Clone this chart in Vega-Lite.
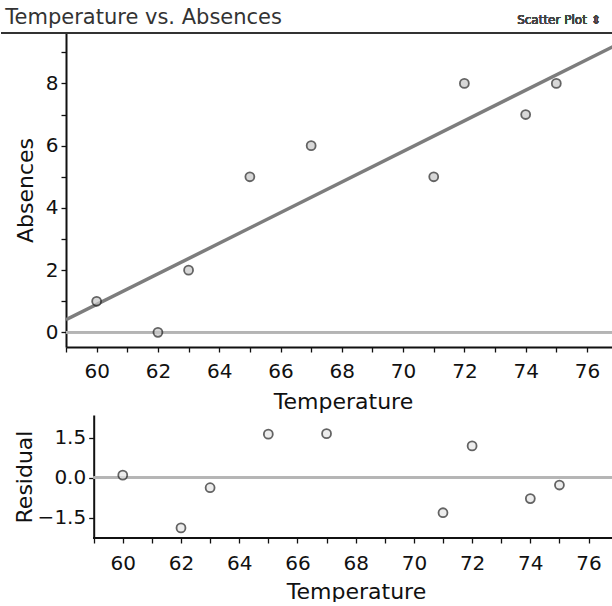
{
  "$schema": "https://vega.github.io/schema/vega-lite/v6.json",
  "padding": {"left": 0, "top": 6, "right": 0, "bottom": 0},
  "background": "white",
  "title": {"text": "Temperature vs. Absences", "anchor": "start", "frame": "bounds", "dx": 5, "fontSize": 21, "font": "DejaVu Sans", "fontWeight": "normal", "color": "#333", "offset": -14},
  "config": {
    "view": {"stroke": null},
    "font": "DejaVu Sans",
    "axis": {"grid": false, "domainColor": "#111", "tickColor": "#111", "labelColor": "#111", "titleColor": "#111", "titleFontWeight": "normal", "labelFontSize": 20, "titleFontSize": 22, "domainWidth": 2, "tickWidth": 1.3, "tickSize": 5, "labelOverlap": false}
  },
  "datasets": {
    "d": [
      {"Temperature": 60, "Absences": 1, "Residual": 0.09},
      {"Temperature": 62, "Absences": 0, "Residual": -1.89},
      {"Temperature": 63, "Absences": 2, "Residual": -0.38},
      {"Temperature": 65, "Absences": 5, "Residual": 1.63},
      {"Temperature": 67, "Absences": 6, "Residual": 1.65},
      {"Temperature": 71, "Absences": 5, "Residual": -1.32},
      {"Temperature": 72, "Absences": 8, "Residual": 1.19},
      {"Temperature": 74, "Absences": 7, "Residual": -0.79},
      {"Temperature": 75, "Absences": 8, "Residual": -0.28}
    ]
  },
  "spacing": 3,
  "vconcat": [
    {
      "width": 547,
      "height": 314,
      "data": {"name": "d"},
      "layer": [
        {
          "mark": {"type": "rule", "color": "#b5b5b5", "strokeWidth": 2},
          "encoding": {"y": {"datum": 0, "type": "quantitative"}}
        },
        {
          "mark": {"type": "rule", "color": "#333", "strokeWidth": 1.5, "clip": false},
          "encoding": {"x": {"datum": 56.88, "type": "quantitative"}, "x2": {"datum": 76.85}, "y": {"datum": 9.62, "type": "quantitative"}}
        },
        {
          "transform": [{"regression": "Absences", "on": "Temperature", "extent": [59, 77]}],
          "mark": {"type": "line", "color": "#7d7d7d", "strokeWidth": 3.5, "clip": true},
          "encoding": {
            "x": {"field": "Temperature", "type": "quantitative"},
            "y": {"field": "Absences", "type": "quantitative"}
          }
        },
        {
          "mark": {"type": "point", "shape": "circle", "filled": true, "fill": "#c8c8c8", "stroke": "#222", "strokeWidth": 1.8, "size": 80},
          "encoding": {
            "x": {"field": "Temperature", "type": "quantitative", "scale": {"domain": [59, 76.85], "nice": false, "zero": false},
              "axis": {"title": "Temperature", "titleX": 277, "tickCount": 40, "format": "d", "values": [59,60,61,62,63,64,65,66,67,68,69,70,71,72,73,74,75,76], "labelExpr": "datum.value % 2 == 0 ? datum.label : ''", "labelPadding": 9, "titlePadding": 10}},
            "y": {"field": "Absences", "type": "quantitative", "scale": {"domain": [-0.47, 9.62], "nice": false, "zero": false},
              "axis": {"title": "Absences", "tickCount": 20, "format": "d", "values": [0,1,2,3,4,5,6,7,8,9], "labelExpr": "datum.value % 2 == 0 ? datum.label : ''", "labelPadding": 3, "titlePadding": 8}}
          }
        },
        {
          "mark": {"type": "text", "text": "Scatter Plot ⇕", "align": "right", "baseline": "middle", "fontSize": 12, "color": "#444", "clip": false},
          "encoding": {"x": {"datum": 76.45, "type": "quantitative"}, "y": {"datum": 10.05, "type": "quantitative"}}
        }
      ]
    },
    {
      "width": 547,
      "height": 123,
      "data": {"name": "d"},
      "layer": [
        {
          "mark": {"type": "rule", "color": "#b5b5b5", "strokeWidth": 2},
          "encoding": {"x": {"datum": 59, "type": "quantitative"}, "x2": {"datum": 76.84}, "y": {"datum": 0, "type": "quantitative"}}
        },
        {
          "mark": {"type": "rule", "color": "#111", "strokeWidth": 2},
          "encoding": {"x": {"datum": 59, "type": "quantitative"}, "x2": {"datum": 76.84}, "y": {"datum": -2.27, "type": "quantitative"}}
        },
        {
          "mark": {"type": "point", "shape": "circle", "filled": true, "fill": "#e6e6e6", "stroke": "#222", "strokeWidth": 1.8, "size": 80},
          "encoding": {
            "x": {"field": "Temperature", "type": "quantitative", "scale": {"domain": [58.05, 76.84], "nice": false, "zero": false},
              "axis": {"title": "Temperature", "domain": false, "titleX": 290, "tickCount": 40, "format": "d", "values": [59,60,61,62,63,64,65,66,67,68,69,70,71,72,73,74,75,76], "labelExpr": "datum.value % 2 == 0 ? datum.label : ''", "labelPadding": 10, "titlePadding": 8}},
            "y": {"field": "Residual", "type": "quantitative", "scale": {"domain": [-2.27, 2.35], "nice": false, "zero": false},
              "axis": {"title": "Residual", "offset": -27.7, "values": [-1.5, 0, 1.5], "format": ".1f", "labelPadding": 3, "titlePadding": 1}}
          }
        }
      ]
    }
  ]
}
